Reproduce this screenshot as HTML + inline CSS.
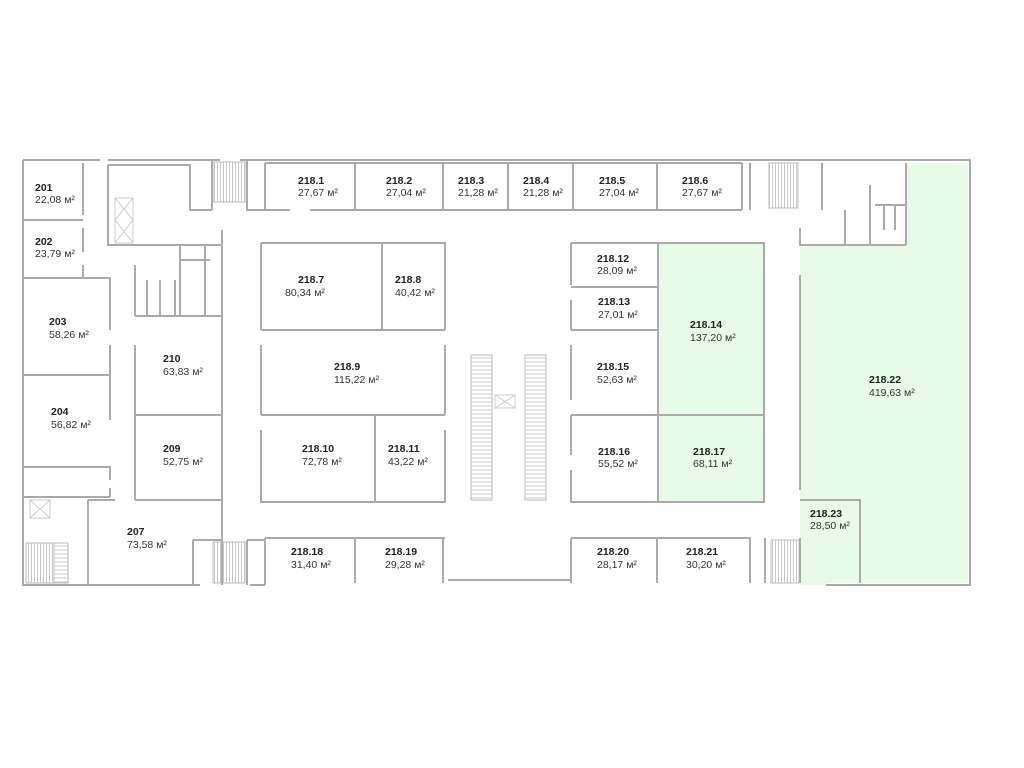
<!DOCTYPE html>
<html><head><meta charset="utf-8"><style>
html,body{margin:0;padding:0;background:#fff;}
svg{display:block;}
text{font-family:"Liberation Sans",sans-serif;font-size:10.5px;fill:#333;}
.b{font-weight:bold;fill:#222;}
</style></head><body>
<svg width="1024" height="768" viewBox="0 0 1024 768" xmlns="http://www.w3.org/2000/svg">
<defs>
<pattern id="sv" width="3" height="10" patternUnits="userSpaceOnUse"><path d="M1.5 0 V10" stroke="#bbb" stroke-width="0.8"/></pattern>
<pattern id="sh" width="10" height="4" patternUnits="userSpaceOnUse"><path d="M0 2 H10" stroke="#bbb" stroke-width="0.8"/></pattern>
</defs>
<path d="M906 163 H968 V583 H826 V585 H800 V245 H906 Z" fill="#e8fbe9"/>
<rect x="658" y="243" width="106" height="259" fill="#e8fbe9"/>
<!-- stairs -->
<g stroke="#bbb" stroke-width="1">
<rect x="214" y="162" width="31" height="40" fill="url(#sv)"/><rect x="769" y="163" width="29" height="45" fill="url(#sv)"/>
<rect x="213" y="542" width="32" height="41" fill="url(#sv)"/><rect x="771" y="540" width="28" height="43" fill="url(#sv)"/>
<rect x="26" y="543" width="28" height="40" fill="url(#sv)"/><rect x="54" y="543" width="14" height="40" fill="url(#sh)"/>
<rect x="471" y="355" width="21" height="145" fill="url(#sh)"/><rect x="525" y="355" width="21" height="145" fill="url(#sh)"/>
</g>
<g fill="none" stroke="#aaa" stroke-width="2">
<path d="M23 160 H100 M108 160 H220 M240 160 H970 V585 H826"/>
<path d="M23 160 V585 H200"/>
<path d="M250 585 H265 M448 580 H571"/>
<path d="M83 163 V215 M83 228 V252 M23 220 H83 M83 265 V278 M23 278 H110 V330 M110 345 V420 M23 375 H110"/>
<path d="M23 467 H110 V480 M23 497 H110 M110 488 V497 M23 497 V540"/>
<path d="M135 345 V500 M135 316 H222 M135 415 H222 M135 500 H222 M88 500 H115 M88 500 V585"/>
<path d="M135 265 V316 M147 280 V316 M160 280 V316 M175 280 V316 M180 245 V316 M180 260 H210 M205 245 V316"/>
<path d="M108 165 V245 H222 M108 165 H190 V210 H212 M212 160 V210 M247 160 V210 H265 M265 163 V210"/>
<path d="M222 230 V540 M193 540 H222 V585 M193 540 V585 M247 540 V585 M247 540 H265"/>
<path d="M265 163 H742 M265 210 H290 M310 210 H742 M355 163 V210 M443 163 V210 M508 163 V210 M573 163 V210 M657 163 V210 M742 163 V210 M750 163 V210 M822 163 V210"/>
<path d="M800 228 V245 H906 M845 210 V245 M870 185 V245 M875 205 H906 M884 205 V230 M895 205 V230 M906 163 V245"/>
<path d="M261 243 H445 V330 M261 243 V330 M382 243 V330 M261 330 H445 M445 345 V415 M261 345 V415 M261 415 H445 M261 430 V502 H445 V430 M375 415 V502"/>
<path d="M571 243 H764 V502 H571 V470 M571 455 V415 M571 400 V345 M571 330 V300 M571 285 V243 M571 287 H658 M571 330 H658 M571 415 H764 M658 243 V502"/>
<path d="M800 275 V490 M800 500 H860 V583"/>
<path d="M265 538 V585 M265 538 H445 M355 538 V583 M443 538 V583 M571 538 H750 V583 M571 538 V583 M657 538 V583 M765 538 V583 M800 538 V583"/>
</g>
<g stroke="#ccc" stroke-width="1" fill="none">
<rect x="115" y="198" width="18" height="45"/><path d="M115 198 L133 220 M133 198 L115 220 M115 220 L133 243 M133 220 L115 243"/>
<rect x="30" y="500" width="20" height="18"/><path d="M30 500 L50 518 M50 500 L30 518 M495 395 L515 408 M515 395 L495 408"/>
<rect x="495" y="395" width="20" height="13"/>
</g>
<g>
<text class="b" x="35" y="191">201</text><text x="35" y="203">22,08 м²</text>
<text class="b" x="35" y="245">202</text><text x="35" y="257">23,79 м²</text>
<text class="b" x="49" y="325">203</text><text x="49" y="338">58,26 м²</text>
<text class="b" x="51" y="415">204</text><text x="51" y="428">56,82 м²</text>
<text class="b" x="163" y="362">210</text><text x="163" y="375">63,83 м²</text>
<text class="b" x="163" y="452">209</text><text x="163" y="465">52,75 м²</text>
<text class="b" x="127" y="535">207</text><text x="127" y="548">73,58 м²</text>
<text class="b" x="298" y="184">218.1</text><text x="298" y="196">27,67 м²</text>
<text class="b" x="386" y="184">218.2</text><text x="386" y="196">27,04 м²</text>
<text class="b" x="458" y="184">218.3</text><text x="458" y="196">21,28 м²</text>
<text class="b" x="523" y="184">218.4</text><text x="523" y="196">21,28 м²</text>
<text class="b" x="599" y="184">218.5</text><text x="599" y="196">27,04 м²</text>
<text class="b" x="682" y="184">218.6</text><text x="682" y="196">27,67 м²</text>
<text class="b" x="298" y="283">218.7</text><text x="285" y="296">80,34 м²</text>
<text class="b" x="395" y="283">218.8</text><text x="395" y="296">40,42 м²</text>
<text class="b" x="334" y="370">218.9</text><text x="334" y="383">115,22 м²</text>
<text class="b" x="302" y="452">218.10</text><text x="302" y="465">72,78 м²</text>
<text class="b" x="388" y="452">218.11</text><text x="388" y="465">43,22 м²</text>
<text class="b" x="597" y="262">218.12</text><text x="597" y="274">28,09 м²</text>
<text class="b" x="598" y="305">218.13</text><text x="598" y="318">27,01 м²</text>
<text class="b" x="690" y="328">218.14</text><text x="690" y="341">137,20 м²</text>
<text class="b" x="597" y="370">218.15</text><text x="597" y="383">52,63 м²</text>
<text class="b" x="598" y="455">218.16</text><text x="598" y="467">55,52 м²</text>
<text class="b" x="693" y="455">218.17</text><text x="693" y="467">68,11 м²</text>
<text class="b" x="869" y="383">218.22</text><text x="869" y="396">419,63 м²</text>
<text class="b" x="810" y="517">218.23</text><text x="810" y="529">28,50 м²</text>
<text class="b" x="291" y="555">218.18</text><text x="291" y="568">31,40 м²</text>
<text class="b" x="385" y="555">218.19</text><text x="385" y="568">29,28 м²</text>
<text class="b" x="597" y="555">218.20</text><text x="597" y="568">28,17 м²</text>
<text class="b" x="686" y="555">218.21</text><text x="686" y="568">30,20 м²</text>
</g>
</svg>
</body></html>
